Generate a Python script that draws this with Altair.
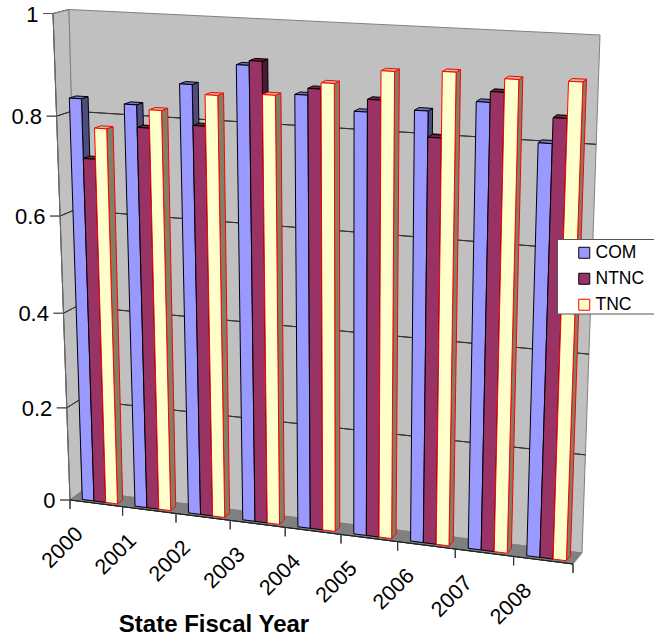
import altair as alt
import pandas as pd

# Values per fiscal year and system type
years = [2000, 2001, 2002, 2003, 2004, 2005, 2006, 2007, 2008]
com = [0.835, 0.83, 0.876, 0.919, 0.869, 0.844, 0.853, 0.876, 0.807]
ntnc = [0.717, 0.786, 0.797, 0.928, 0.882, 0.868, 0.804, 0.896, 0.855]
tnc = [0.779, 0.822, 0.858, 0.865, 0.894, 0.923, 0.928, 0.921, 0.923]
value_ticks = [0, 0.2, 0.4, 0.6, 0.8, 1]
series_names = ["COM", "NTNC", "TNC"]

# Perspective box of the 3-D column chart: screen position of its eight corners
FLT, BLT, BRT, FRT = (53, 13.5), (69, 9.5), (600, 35), (592, 41)
FLB, BLB, BRB, FRB = (70, 500), (82, 491), (582, 553), (573, 564)
FORESHORTEN = 1.07
FORESHORTEN_TOP = 1.095
N = len(years)

# Column layout within one category slot and along the depth axis
BAR_START, BAR_WIDTH = 0.19, 0.223
DEPTH_FRONT, DEPTH_BACK = 0.2, 0.64

STYLES = {
    "COM": dict(front="#9999FF", side="#4D4D80", top="#7373BF", line="#000000"),
    "NTNC": dict(front="#993366", side="#4D1A33", top="#732640", line="#000000"),
    "TNC": dict(front="#FFFFCC", side="#808066", top="#BFBF99", line="#FF0000"),
}


def persp(t, a=FORESHORTEN):
    return t / (a + (1 - a) * t)


def lerp(a, b, t):
    return (a[0] + (b[0] - a[0]) * t, a[1] + (b[1] - a[1]) * t)


def project(u, d, v):
    """Map (category position, depth 0-1, value 0-1) to screen x, y."""
    g_bottom, g_top, f = persp(u / N), persp(u / N, FORESHORTEN_TOP), persp(v)
    bottom = lerp(lerp(FLB, FRB, g_bottom), lerp(BLB, BRB, g_bottom), d)
    top = lerp(lerp(FLT, FRT, g_top), lerp(BLT, BRT, g_top), d)
    return lerp(bottom, top, f)


scene_rows = []
front_rows = []


def add(rows, pts, fill, stroke, width=1.0, series=None):
    pid = len(scene_rows) + len(front_rows)
    for k, (x, y) in enumerate(pts):
        rows.append(dict(pid=pid, k=k, px=x, py=y, fillc=fill, strokec=stroke,
                         sw=width, series=series))


# Walls and floor
WALL, EDGE, GRID = "#C0C0C0", "#808080", "#333333"
add(scene_rows, [FLT, BLT, BLB, FLB], WALL, EDGE)
add(scene_rows, [BLT, BRT, BRB, BLB], WALL, EDGE)
add(scene_rows, [FLB, BLB, BRB, FRB], "#808080", "#808080")

# Gridlines across the side wall and back wall
for v in value_ticks[1:-1]:
    add(scene_rows, [project(0, 0, v), project(0, 1, v)], "transparent", GRID)
    add(scene_rows, [project(0, 1, v), project(N, 1, v)], "transparent", GRID)
add(scene_rows, [project(0, 0, 1), project(0, 1, 1)], "transparent", EDGE)

# Front edges and tick marks of the value axis and the category axis
add(scene_rows, [FLT, FLB], "transparent", "#666666")
add(scene_rows, [FLB, FRB], "transparent", "#222222")
for v in value_ticks:
    x, y = project(0, 0, v)
    add(scene_rows, [(x - 10, y), (x, y)], "transparent", "#555555")
for i in range(N + 1):
    x, y = project(i, 0, 0)
    add(scene_rows, [(x, y), (x, y + 9)], "transparent", "#333333")

# Columns: sides and tops recede behind the coplanar front faces
for i in range(N):
    for s, (name, vals) in enumerate(zip(series_names, (com, ntnc, tnc))):
        st = STYLES[name]
        u0 = i + BAR_START + s * BAR_WIDTH
        u1 = u0 + BAR_WIDTH
        v = vals[i]
        add(scene_rows, [project(u1, DEPTH_FRONT, 0), project(u1, DEPTH_BACK, 0),
                         project(u1, DEPTH_BACK, v), project(u1, DEPTH_FRONT, v)],
            st["side"], st["line"])
        add(scene_rows, [project(u0, DEPTH_FRONT, v), project(u0, DEPTH_BACK, v),
                         project(u1, DEPTH_BACK, v), project(u1, DEPTH_FRONT, v)],
            st["top"], st["line"])
        add(front_rows, [project(u0, DEPTH_FRONT, 0), project(u1, DEPTH_FRONT, 0),
                         project(u1, DEPTH_FRONT, v), project(u0, DEPTH_FRONT, v)],
            st["front"], st["line"], series=name)

x_enc = alt.X("px:Q", scale=alt.Scale(domain=[0, 654], range=[0, 654], nice=False, zero=False), axis=None)
y_enc = alt.Y("py:Q", scale=alt.Scale(domain=[0, 642], range=[0, 642], nice=False, zero=False), axis=None)

base_mark = dict(interpolate="linear-closed", strokeJoin="miter", clip=False)

scene = alt.Chart(pd.DataFrame(scene_rows)).mark_line(**base_mark).encode(
    x=x_enc,
    y=y_enc,
    detail="pid:N",
    order="k:Q",
    fill=alt.Fill("fillc:N", scale=None),
    stroke=alt.Stroke("strokec:N", scale=None),
    strokeWidth=alt.StrokeWidth("sw:Q", scale=None),
)

legend = alt.Legend(
    title=None, orient="none", legendX=554.5, legendY=244, padding=0,
    symbolType="square", symbolSize=121, symbolStrokeWidth=1, symbolOpacity=1,
    symbolOffset=21, labelOffset=2.5, labelFont="Liberation Sans", labelFontSize=17.5,
    labelColor="#000000", rowPadding=7, zindex=2,
)
series_scale_fill = alt.Scale(domain=series_names, range=[STYLES[n]["front"] for n in series_names])
series_scale_stroke = alt.Scale(domain=series_names, range=[STYLES[n]["line"] for n in series_names])

fronts = alt.Chart(pd.DataFrame(front_rows)).mark_line(**base_mark, strokeWidth=1).encode(
    x=x_enc,
    y=y_enc,
    detail="pid:N",
    order="k:Q",
    fill=alt.Fill("series:N", scale=series_scale_fill, legend=legend),
    stroke=alt.Stroke("series:N", scale=series_scale_stroke, legend=legend),
)

# Panel behind the legend entries
panel = alt.Chart(pd.DataFrame({"px": [557.5], "py": [239.5], "px2": [660], "py2": [314]})).mark_rect(
    fill="#FFFFFF", stroke="#555555", strokeWidth=1
).encode(x=x_enc, y=y_enc, x2="px2:Q", y2="py2:Q")

value_labels = pd.DataFrame({
    "label": [f"{v:g}" for v in value_ticks],
    "px": [project(0, 0, v)[0] - 14.5 for v in value_ticks],
    "py": [project(0, 0, v)[1] + 1 for v in value_ticks],
})
value_text = alt.Chart(value_labels).mark_text(
    font="Liberation Sans", fontSize=22, align="right", baseline="middle", color="#000000"
).encode(x=x_enc, y=y_enc, text="label:N")

year_labels = pd.DataFrame({
    "label": [str(y) for y in years],
    "px": [project(i, 0, 0)[0] - 7 + 0.6 * i for i in range(N)],
    "py": [project(i, 0, 0)[1] + 48 for i in range(N)],
})
year_text = alt.Chart(year_labels).mark_text(
    font="Liberation Sans", fontSize=21.5, align="center", baseline="middle", angle=315, color="#000000"
).encode(x=x_enc, y=y_enc, text="label:N")

axis_title = alt.Chart(pd.DataFrame({"label": ["State Fiscal Year"], "px": [214], "py": [625]})).mark_text(
    font="Liberation Sans", fontSize=24, fontWeight="bold", align="center", baseline="middle", color="#000000"
).encode(x=x_enc, y=y_enc, text="label:N")

chart = alt.layer(scene, fronts, panel, value_text, year_text, axis_title).properties(
    width=654, height=642, padding=0, autosize=alt.AutoSizeParams(type="none"), background="#FFFFFF"
).configure_view(stroke=None)

chart.save("out.html", embed_options={"renderer": "svg", "actions": False})
